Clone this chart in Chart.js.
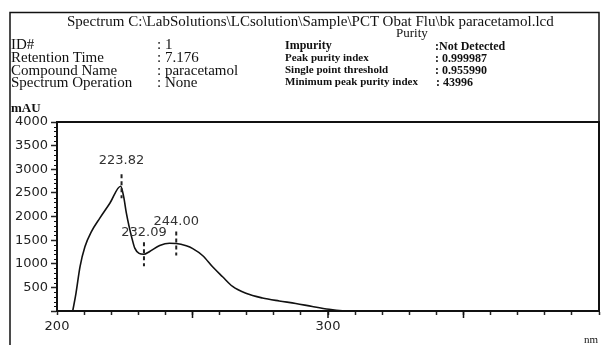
<!DOCTYPE html>
<html>
<head>
<meta charset="utf-8">
<script src="https://cdn.jsdelivr.net/npm/chart.js@4/dist/chart.umd.min.js"></script>
<style>
  html, body { margin: 0; padding: 0; background: #fff; }
  #wrap { position: relative; width: 603px; height: 345px; overflow: hidden; }
  #c { position: absolute; left: 0; top: 0; }
  .t { position: absolute; font-family: "Liberation Serif", "Times New Roman", serif; color: #111; white-space: nowrap; line-height: 1; }
  .h { font-size: 15px; }
  .s { font-size: 11px; font-weight: bold; }
  .v { font-size: 12px; font-weight: bold; }
</style>
</head>
<body>
<div id="wrap">
  <canvas id="c" width="603" height="345"></canvas>
  <div class="t h" style="left:67px;top:13.5px;">Spectrum C:\LabSolutions\LCsolution\Sample\PCT Obat Flu\bk paracetamol.lcd</div>
  <div class="t h" style="left:11px;top:37px;">ID#</div>
  <div class="t h" style="left:11px;top:50px;">Retention Time</div>
  <div class="t h" style="left:11px;top:62.5px;">Compound Name</div>
  <div class="t h" style="left:11px;top:75px;">Spectrum Operation</div>
  <div class="t h" style="left:157px;top:37px;">: 1</div>
  <div class="t h" style="left:157px;top:50px;">: 7.176</div>
  <div class="t h" style="left:157px;top:62.5px;">: paracetamol</div>
  <div class="t h" style="left:157px;top:75px;">: None</div>
  <div class="t" style="left:396px;top:26px;font-size:13px;">Purity</div>
  <div class="t s" style="left:285px;top:39px;font-size:12px;">Impurity</div>
  <div class="t s" style="left:285px;top:52px;">Peak purity index</div>
  <div class="t s" style="left:285px;top:64px;">Single point threshold</div>
  <div class="t s" style="left:285px;top:76px;">Minimum peak purity index</div>
  <div class="t v" style="left:435px;top:40px;">:Not Detected</div>
  <div class="t v" style="left:435px;top:51.5px;">: 0.999987</div>
  <div class="t v" style="left:435px;top:63.5px;">: 0.955990</div>
  <div class="t v" style="left:436px;top:75.5px;">: 43996</div>
  <div class="t" style="left:11px;top:101px;font-size:13px;font-weight:bold;">mAU</div>
  <div class="t" style="left:584px;top:334px;font-size:11px;">nm</div>
</div>
<script>
// Spectrum data (wavelength nm, absorbance mAU)
const wavelength = [205.8, 207, 208.5, 210.3, 212.7, 215.8, 219.5, 223.5, 224.6, 225.6, 226.6, 227.5, 228.7, 230.3, 232.0, 234.2, 237.9, 241.5, 244.0, 247.7, 250.1, 253.8, 257.5, 261.1, 264.8, 269.7, 275.8, 282.0, 288.1, 294.2, 300.4, 305.3, 310.0];
const absorbance = [0, 375, 940, 1360, 1680, 1965, 2280, 2640, 2420, 2070, 1790, 1575, 1330, 1220, 1200, 1260, 1385, 1435, 1430, 1380, 1320, 1170, 930, 725, 520, 375, 275, 212, 160, 95, 36, 6, 0];

// Peak markers
const peakWavelength = [223.82, 232.09, 244.00];
const peakValue = [2640, 1200, 1430];
const peakLabels = ["223.82", "232.09", "244.00"];

// Axis ticks
const xTickLabels = [200, 300];
const yTickLabels = [500, 1000, 1500, 2000, 2500, 3000, 3500, 4000];

const points = wavelength.map((w, i) => ({ x: w, y: absorbance[i] }));

const extras = {
  id: 'extras',
  afterDraw(chart) {
    const ctx = chart.ctx;
    const xs = chart.scales.x, ys = chart.scales.y;
    const a = chart.chartArea;
    ctx.save();
    // outer frame
    ctx.strokeStyle = '#111';
    ctx.lineWidth = 1.5;
    ctx.beginPath();
    ctx.moveTo(10, 345); ctx.lineTo(10, 12.5); ctx.lineTo(a.right, 12.5); ctx.lineTo(a.right, a.top);
    ctx.stroke();
    // plot box
    ctx.lineWidth = 2;
    ctx.strokeRect(a.left, a.top, a.right - a.left, a.bottom - a.top);
    // minor y ticks
    ctx.lineWidth = 1;
    for (let v = 100; v < 4000; v += 100) {
      if (v % 500 === 0) continue;
      const y = Math.round(ys.getPixelForValue(v)) + 0.5;
      ctx.beginPath(); ctx.moveTo(a.left - 3, y); ctx.lineTo(a.left, y); ctx.stroke();
    }
    // longer x ticks every 50
    ctx.lineWidth = 1.5;
    for (let v = 250; v < 400; v += 50) {
      const x = xs.getPixelForValue(v);
      ctx.beginPath(); ctx.moveTo(x, a.bottom); ctx.lineTo(x, a.bottom + 7); ctx.stroke();
    }
    // peak markers
    ctx.font = '13px "DejaVu Sans", Verdana, sans-serif';
    ctx.textAlign = 'center';
    ctx.textBaseline = 'middle';
    peakWavelength.forEach((w, i) => {
      const x = xs.getPixelForValue(w);
      const y = ys.getPixelForValue(peakValue[i]);
      ctx.strokeStyle = '#222';
      ctx.lineWidth = 2;
      ctx.setLineDash([4, 3]);
      ctx.beginPath(); ctx.moveTo(x, y - 12); ctx.lineTo(x, y + 12); ctx.stroke();
      ctx.setLineDash([]);
      ctx.fillStyle = '#333';
      ctx.fillText(peakLabels[i], x, y - (i === 0 ? 26 : 22));
    });
    ctx.restore();
  }
};

new Chart(document.getElementById('c'), {
  type: 'line',
  data: {
    datasets: [{
      data: points,
      borderColor: '#111',
      borderWidth: 1.6,
      pointRadius: 0,
      fill: false,
      cubicInterpolationMode: 'monotone'
    }]
  },
  options: {
    responsive: false,
    animation: false,
    devicePixelRatio: 1,
    layout: { padding: { top: 122, right: 2, left: 0, bottom: 0 } },
    plugins: { legend: { display: false }, tooltip: { enabled: false } },
    scales: {
      x: {
        type: 'linear', min: 200, max: 400,
        afterFit(s) { s.height = 34; },
        grid: { drawOnChartArea: false, tickLength: 4, tickWidth: 1.5, tickColor: '#222' },
        border: { color: '#111', width: 2 },
        ticks: {
          stepSize: 10, autoSkip: false, maxRotation: 0, padding: 4,
          color: '#222', font: { family: '"DejaVu Sans", Verdana, sans-serif', size: 13 },
          callback: v => xTickLabels.includes(v) ? String(v) : ''
        }
      },
      y: {
        min: 0, max: 4000,
        afterFit(s) { s.width = 57; },
        grid: { drawOnChartArea: false, tickLength: 6, tickWidth: 1.5, tickColor: '#222' },
        border: { color: '#111', width: 2 },
        ticks: {
          stepSize: 500, padding: 3,
          color: '#222', font: { family: '"DejaVu Sans", Verdana, sans-serif', size: 13 },
          callback: v => yTickLabels.includes(v) ? String(v) : ''
        }
      }
    }
  },
  plugins: [extras]
});
</script>
</body>
</html>
